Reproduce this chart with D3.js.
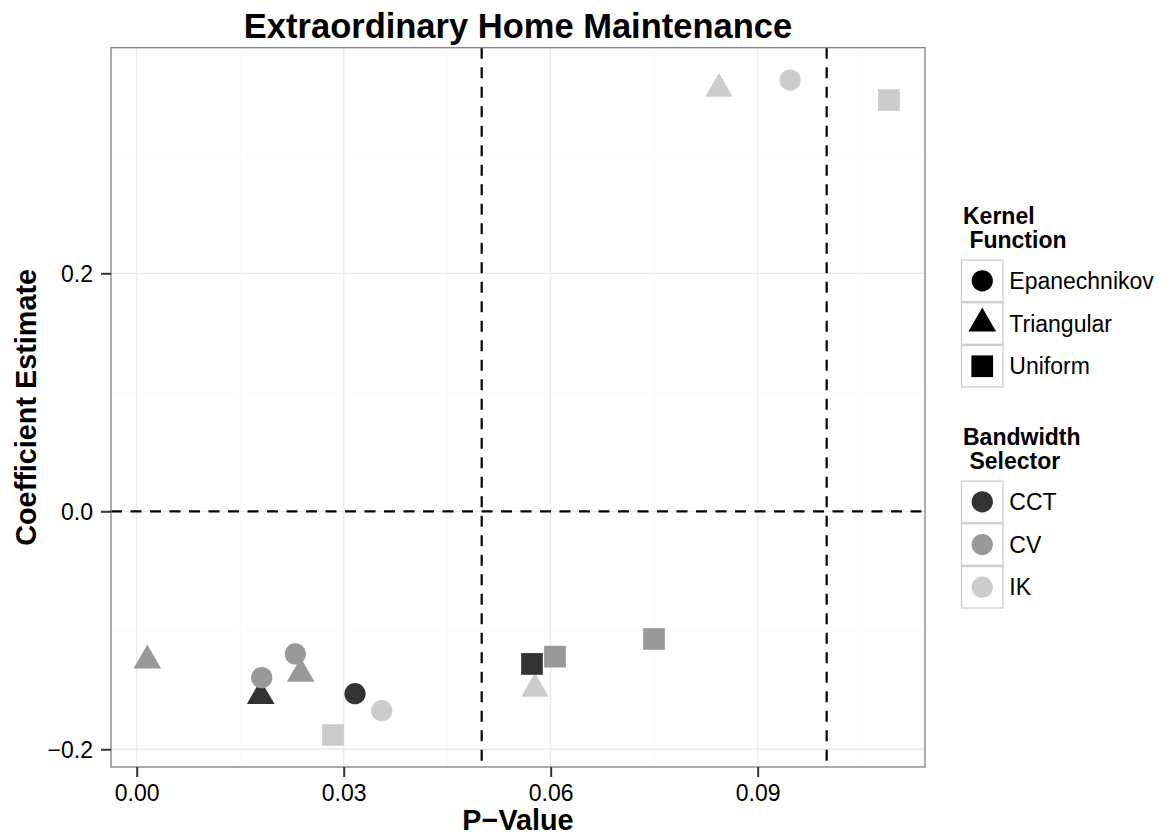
<!DOCTYPE html>
<html>
<head>
<meta charset="utf-8">
<script src="https://cdn.jsdelivr.net/npm/d3@7"></script>
<style>
  html, body { margin: 0; padding: 0; background: #ffffff; }
  svg { display: block; font-family: "Liberation Sans", Arial, Helvetica, sans-serif; }
</style>
</head>
<body>
<svg id="chart" width="1171" height="838"></svg>
<script>
// Estimates by kernel function and bandwidth selector
const kernels    = ["Triangular", "Triangular", "Triangular", "Triangular", "Triangular",
                    "Epanechnikov", "Epanechnikov", "Epanechnikov", "Epanechnikov", "Epanechnikov",
                    "Uniform", "Uniform", "Uniform", "Uniform", "Uniform"];
const selectors  = ["CV", "CCT", "CV", "IK", "IK",
                    "CV", "CV", "CCT", "IK", "IK",
                    "IK", "CCT", "CV", "CV", "IK"];
const pValues    = [0.00154, 0.01797, 0.02377, 0.05772, 0.08439,
                    0.01812, 0.02299, 0.03164, 0.03551, 0.09472,
                    0.02845, 0.05729, 0.06062, 0.07497, 0.10903];
const estimates  = [-0.1254, -0.1552, -0.1366, -0.1492, 0.3550,
                    -0.1398, -0.1199, -0.1533, -0.1676, 0.3624,
                    -0.1880, -0.1283, -0.1222, -0.1073, 0.3456];

const kernelLevels   = ["Epanechnikov", "Triangular", "Uniform"];
const selectorLevels = ["CCT", "CV", "IK"];
const selectorGreys  = ["#333333", "#999999", "#cccccc"];

const xTicks      = [0.00, 0.03, 0.06, 0.09];
const xMinorTicks = [0.015, 0.045, 0.075, 0.105];
const yTicks      = [-0.2, 0.0, 0.2];
const yMinorTicks = [-0.1, 0.1, 0.3];
const vRefs = [0.05, 0.10];
const hRefs = [0.0];

const data = pValues.map((p, i) => ({ p, est: estimates[i], kernel: kernels[i], selector: selectors[i] }));

const panel = { left: 111, top: 47.7, right: 925, bottom: 767 };
const svg = d3.select("#chart");

const x = d3.scaleLinear().domain([-0.003725, 0.11425]).range([panel.left, panel.right]);
const y = d3.scaleLinear().domain([-0.2149, 0.3896]).range([panel.bottom, panel.top]);

const colour = d3.scaleOrdinal().domain(selectorLevels).range(selectorGreys);
const shapeArea = { Epanechnikov: 355, Triangular: 332, Uniform: 471 };
const shapeType = d3.scaleOrdinal().domain(kernelLevels)
  .range([d3.symbolCircle, d3.symbolTriangle, d3.symbolSquare]);
const symbolPath = k => d3.symbol().type(shapeType(k)).size(shapeArea[k])();

// Panel background
svg.append("rect")
  .attr("x", panel.left).attr("y", panel.top)
  .attr("width", panel.right - panel.left).attr("height", panel.bottom - panel.top)
  .attr("fill", "#ffffff");

// Grid lines
const grid = svg.append("g");
grid.selectAll(".xminor").data(xMinorTicks).join("line")
  .attr("x1", d => x(d)).attr("x2", d => x(d))
  .attr("y1", panel.top).attr("y2", panel.bottom)
  .attr("stroke", "#fafafa").attr("stroke-width", 1);
grid.selectAll(".yminor").data(yMinorTicks).join("line")
  .attr("y1", d => y(d)).attr("y2", d => y(d))
  .attr("x1", panel.left).attr("x2", panel.right)
  .attr("stroke", "#fafafa").attr("stroke-width", 1);
grid.selectAll(".xmajor").data(xTicks).join("line")
  .attr("x1", d => x(d)).attr("x2", d => x(d))
  .attr("y1", panel.top).attr("y2", panel.bottom)
  .attr("stroke", "#ebebeb").attr("stroke-width", 1.3);
grid.selectAll(".ymajor").data(yTicks).join("line")
  .attr("y1", d => y(d)).attr("y2", d => y(d))
  .attr("x1", panel.left).attr("x2", panel.right)
  .attr("stroke", "#ebebeb").attr("stroke-width", 1.3);

// Reference lines
const refs = svg.append("g").attr("stroke", "#000").attr("stroke-width", 2.2)
  .attr("stroke-dasharray", "11,8.5");
refs.selectAll(".v").data(vRefs).join("line")
  .attr("x1", d => x(d)).attr("x2", d => x(d))
  .attr("y1", panel.top).attr("y2", panel.bottom);
refs.selectAll(".h").data(hRefs).join("line")
  .attr("y1", d => y(d)).attr("y2", d => y(d))
  .attr("x1", panel.left).attr("x2", panel.right);

// Points
svg.append("g").selectAll("path").data(data).join("path")
  .attr("transform", d => `translate(${x(d.p)},${y(d.est)})`)
  .attr("d", d => symbolPath(d.kernel))
  .attr("fill", d => colour(d.selector));

// Panel border
svg.append("rect")
  .attr("x", panel.left).attr("y", panel.top)
  .attr("width", panel.right - panel.left).attr("height", panel.bottom - panel.top)
  .attr("fill", "none").attr("stroke", "#7f7f7f").attr("stroke-width", 1.3);

// Axes
const xAxis = svg.append("g").attr("transform", `translate(0,${panel.bottom})`)
  .call(d3.axisBottom(x).tickValues(xTicks).tickFormat(d3.format(".2f")).tickSizeInner(10).tickSizeOuter(0).tickPadding(8));
const yAxis = svg.append("g").attr("transform", `translate(${panel.left},0)`)
  .call(d3.axisLeft(y).tickValues(yTicks).tickFormat(d => d3.format(".1f")(d).replace("-", "\u2212")).tickSizeInner(10).tickSizeOuter(0).tickPadding(8));
[xAxis, yAxis].forEach(a => {
  a.select(".domain").remove();
  a.selectAll(".tick line").attr("stroke", "#333333").attr("stroke-width", 2);
  a.selectAll(".tick text").attr("fill", "#000").attr("font-size", 23)
    .attr("font-family", "Liberation Sans, Arial, sans-serif");
});
xAxis.selectAll(".tick text").attr("dy", "0.71em");
yAxis.selectAll(".tick text").attr("dy", "0.35em");

// Titles
svg.append("text").attr("x", (panel.left + panel.right) / 2).attr("y", 37.7)
  .attr("text-anchor", "middle").attr("font-size", 34.5).attr("font-weight", "bold")
  .text("Extraordinary Home Maintenance");
svg.append("text").attr("x", (panel.left + panel.right) / 2).attr("y", 830)
  .attr("text-anchor", "middle").attr("font-size", 28.8).attr("font-weight", "bold")
  .text("P\u2212Value");
svg.append("text")
  .attr("transform", `translate(36,${(panel.top + panel.bottom) / 2}) rotate(-90)`)
  .attr("text-anchor", "middle").attr("font-size", 28.8).attr("font-weight", "bold")
  .text("Coefficient Estimate");

// Legends
function legend(top, titleLines, items, glyph) {
  const g = svg.append("g");
  const lineGap = 24;
  titleLines.forEach((t, i) => {
    g.append("text").attr("x", 963).attr("y", top + i * lineGap)
      .attr("font-size", 23).attr("font-weight", "bold")
      .attr("xml:space", "preserve").style("white-space", "pre")
      .text(t);
  });
  const keyTop = top + (titleLines.length - 1) * lineGap + 11.5;
  const keySize = 42.7;
  items.forEach((it, i) => {
    const ky = keyTop + i * keySize;
    g.append("rect").attr("x", 961.5).attr("y", ky + 0.6)
      .attr("width", keySize - 1.2).attr("height", keySize - 1.2)
      .attr("fill", "#fff").attr("stroke", "#cccccc").attr("stroke-width", 1.3);
    g.append("path")
      .attr("transform", `translate(${961.5 + keySize / 2 - 0.6},${ky + keySize / 2})`)
      .attr("d", glyph.path(it)).attr("fill", glyph.fill(it));
    g.append("text").attr("x", 1009.3).attr("y", ky + keySize / 2).attr("dy", "0.35em")
      .attr("font-size", 23).text(it);
  });
}

legend(224, ["Kernel", " Function"], kernelLevels,
  { path: k => symbolPath(k), fill: () => "#000" });
legend(445, ["Bandwidth", " Selector"], selectorLevels,
  { path: () => symbolPath("Epanechnikov"), fill: s => colour(s) });
</script>
</body>
</html>
